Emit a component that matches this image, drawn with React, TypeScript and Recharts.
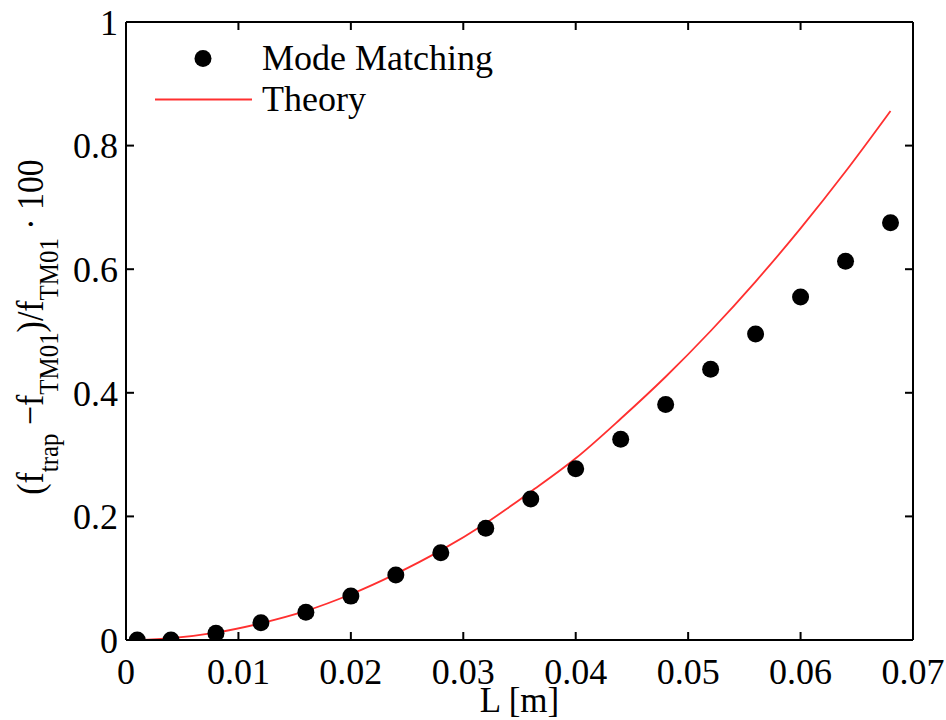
import {
  ComposedChart,
  Legend,
  Line,
  Scatter,
  XAxis,
  YAxis,
} from "recharts";

const FONT = '"Liberation Serif", "Times New Roman", serif';
const RED = "#ff3030";

// cavity length L [m]
const LENGTHS = [
  0.001, 0.004, 0.008, 0.012, 0.016, 0.02, 0.024, 0.028, 0.032, 0.036, 0.04,
  0.044, 0.048, 0.052, 0.056, 0.06, 0.064, 0.068,
];
// relative frequency shift in percent
const MODE_MATCHING = [
  0.0, 0.0, 0.011, 0.028, 0.045, 0.071, 0.105, 0.141, 0.181, 0.228, 0.277,
  0.325, 0.381, 0.438, 0.495, 0.555, 0.613, 0.675,
];
const THEORY = [
  0.0, 0.003, 0.012, 0.027, 0.047, 0.074, 0.107, 0.145, 0.189, 0.24, 0.294,
  0.358, 0.426, 0.5, 0.58, 0.666, 0.758, 0.856,
];

const X_TICKS = [0, 0.01, 0.02, 0.03, 0.04, 0.05, 0.06, 0.07];
const Y_TICKS = [0, 0.2, 0.4, 0.6, 0.8, 1];

const mmData = LENGTHS.map((L, i) => ({ L, mm: MODE_MATCHING[i] }));
const theoryData = LENGTHS.map((L, i) => ({ L, theory: THEORY[i] }));

const frame = { stroke: "#000", strokeWidth: 2 };
const tickFont = { fontSize: 36, fontFamily: FONT, fill: "#000" };

// tick marks only, no text
const noLabel = () => <g />;

function YTitle(props: any) {
  const vb = props.viewBox ?? { x: 0, y: 0, width: 0, height: 0 };
  const cx = vb.x + 43;
  const cy = vb.y + vb.height / 2 - 4;
  const sub = 28;
  const drop = 15;
  return (
    <text
      x={cx}
      y={cy}
      transform={`translate(${cx}, ${cy}) rotate(-90) scale(0.89, 1) translate(${-cx}, ${-cy})`}
      textAnchor="middle"
      fontFamily={FONT}
      fontSize={38}
      fill="#000"
    >
      <tspan>{"(f"}</tspan>
      <tspan fontSize={sub} dy={drop}>
        {"trap"}
      </tspan>
      <tspan dy={-drop}>{" \u2212f"}</tspan>
      <tspan fontSize={sub} dy={drop}>
        {"TM01"}
      </tspan>
      <tspan dy={-drop}>{")/f"}</tspan>
      <tspan fontSize={sub} dy={drop}>
        {"TM01"}
      </tspan>
      <tspan dy={-drop}>{" \u00b7 100"}</tspan>
    </text>
  );
}

function LegendBox({ payload }: { payload?: readonly any[] }) {
  const rows = [...(payload ?? [])].sort(
    (a, b) => (a.type === "circle" ? 0 : 1) - (b.type === "circle" ? 0 : 1),
  );
  return (
    <div style={{ fontFamily: FONT, fontSize: 36, color: "#000" }}>
      {rows.map((entry) => (
        <div
          key={entry.value}
          style={{ display: "flex", alignItems: "center", height: 41 }}
        >
          <svg width={97} height={41}>
            {entry.type === "circle" ? (
              <circle cx={48} cy={20.5} r={8.5} fill="#000" />
            ) : (
              <line
                x1={0}
                x2={97}
                y1={20.5}
                y2={20.5}
                stroke={RED}
                strokeWidth={2}
              />
            )}
          </svg>
          <span style={{ marginLeft: 10, lineHeight: "41px", whiteSpace: "nowrap" }}>
            {entry.value}
          </span>
        </div>
      ))}
    </div>
  );
}

export default function App() {
  return (
    <div style={{ position: "absolute", left: 0, top: 0, background: "#fff" }}>
      <ComposedChart
        width={946}
        height={720}
        margin={{ top: 22, right: 33, left: 0, bottom: 0 }}
      >
        {/* bottom and left: labels outside, ticks pointing in */}
        <XAxis
          xAxisId="b"
          dataKey="L"
          type="number"
          domain={[0, 0.07]}
          ticks={X_TICKS}
          allowDataOverflow
          height={80}
          tickSize={-8}
          tickLine={frame}
          tickMargin={26}
          axisLine={frame}
          tick={tickFont}
          label={{
            value: "L [m]",
            position: "insideBottom",
            offset: 8,
            style: { fontSize: 35, fontFamily: FONT, fill: "#000" },
          }}
        />
        <YAxis
          yAxisId="l"
          type="number"
          domain={[0, 1]}
          ticks={Y_TICKS}
          allowDataOverflow
          width={126}
          tickSize={-8}
          tickLine={frame}
          tickMargin={16}
          axisLine={frame}
          tick={tickFont}
          label={<YTitle />}
        />
        {/* top and right: frame with inward ticks */}
        <XAxis
          xAxisId="t"
          dataKey="L"
          type="number"
          domain={[0, 0.07]}
          ticks={X_TICKS}
          allowDataOverflow
          orientation="top"
          mirror
          tick={noLabel}
          tickSize={8}
          tickLine={frame}
          axisLine={frame}
        />
        <YAxis
          yAxisId="r"
          type="number"
          domain={[0, 1]}
          ticks={Y_TICKS}
          allowDataOverflow
          orientation="right"
          mirror
          tick={noLabel}
          tickSize={8}
          tickLine={frame}
          axisLine={frame}
        />
        <Scatter
          xAxisId="b"
          yAxisId="l"
          data={mmData}
          dataKey="mm"
          name="Mode Matching"
          legendType="circle"
          fill="#000"
          shape={(p: any) => <circle cx={p.cx} cy={p.cy} r={8.5} fill="#000" />}
          isAnimationActive={false}
        />
        <Line
          xAxisId="t"
          yAxisId="r"
          data={theoryData}
          dataKey="theory"
          name="Theory"
          legendType="line"
          type="monotone"
          stroke={RED}
          strokeWidth={1.8}
          dot={false}
          activeDot={false}
          isAnimationActive={false}
        />
        <Legend
          layout="vertical"
          align="center"
          verticalAlign="middle"
          wrapperStyle={{ left: 155, top: 38, width: "auto" }}
          content={(props: any) => <LegendBox payload={props.payload} />}
        />
      </ComposedChart>
    </div>
  );
}
